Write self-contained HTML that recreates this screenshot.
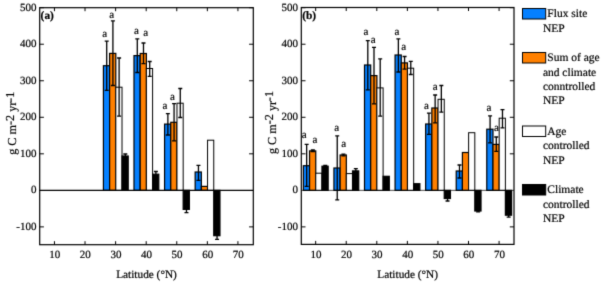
<!DOCTYPE html>
<html><head><meta charset="utf-8"><style>
html,body{margin:0;padding:0;background:#fff;}
svg{display:block;}
text{font-family:"Liberation Serif",serif;fill:#000;stroke:#000;stroke-width:0.2px;text-rendering:geometricPrecision;}
.t{font-size:11px;}
.l{font-size:12.2px;}
.x{font-size:11.3px;}
.s{font-size:12.2px;}
.g{font-size:11.5px;}
</style></head><body>
<svg width="602" height="283" viewBox="0 0 602 283">
<defs><filter id="bl" color-interpolation-filters="sRGB" x="0" y="0" width="602" height="283" filterUnits="userSpaceOnUse"><feConvolveMatrix order="3" kernelMatrix="0.0144 0.0912 0.0144 0.0912 0.5776 0.0912 0.0144 0.0912 0.0144" edgeMode="duplicate" preserveAlpha="true"/></filter></defs>
<g filter="url(#bl)"><rect width="602" height="283" fill="#fff"/>
<rect x="103.41" y="65.70" width="6.20" height="124.65" fill="#0580ff" stroke="#000" stroke-width="1.2"/>
<rect x="109.61" y="53.40" width="6.20" height="136.95" fill="#ff8000" stroke="#000" stroke-width="1.2"/>
<rect x="115.81" y="87.20" width="6.20" height="103.15" fill="#fff" stroke="#000" stroke-width="1.0"/>
<rect x="122.01" y="156.00" width="6.20" height="34.35" fill="#000" stroke="#000" stroke-width="1.2"/>
<path d="M106.71 41.10V90.30M104.71 41.10h4M104.71 90.30h4" stroke="#000" stroke-width="1.3" fill="none"/>
<path d="M112.91 20.90V85.50M110.91 20.90h4M110.91 85.50h4" stroke="#000" stroke-width="1.3" fill="none"/>
<path d="M119.11 58.00V116.20M117.11 58.00h4M117.11 116.20h4" stroke="#000" stroke-width="1.3" fill="none"/>
<path d="M125.31 154.00V158.00M123.31 154.00h4M123.31 158.00h4" stroke="#000" stroke-width="1.3" fill="none"/>
<rect x="133.99" y="55.60" width="6.20" height="134.75" fill="#0580ff" stroke="#000" stroke-width="1.2"/>
<rect x="140.19" y="53.50" width="6.20" height="136.85" fill="#ff8000" stroke="#000" stroke-width="1.2"/>
<rect x="146.39" y="68.50" width="6.20" height="121.85" fill="#fff" stroke="#000" stroke-width="1.0"/>
<rect x="152.59" y="174.20" width="6.20" height="16.15" fill="#000" stroke="#000" stroke-width="1.2"/>
<path d="M137.29 38.80V72.50M135.29 38.80h4M135.29 72.50h4" stroke="#000" stroke-width="1.3" fill="none"/>
<path d="M143.49 43.00V63.60M141.49 43.00h4M141.49 63.60h4" stroke="#000" stroke-width="1.3" fill="none"/>
<path d="M149.69 61.50V76.40M147.69 61.50h4M147.69 76.40h4" stroke="#000" stroke-width="1.3" fill="none"/>
<path d="M155.89 171.50V177.00M153.89 171.50h4M153.89 177.00h4" stroke="#000" stroke-width="1.3" fill="none"/>
<rect x="164.57" y="124.10" width="6.20" height="66.25" fill="#0580ff" stroke="#000" stroke-width="1.2"/>
<rect x="170.77" y="122.30" width="6.20" height="68.05" fill="#ff8000" stroke="#000" stroke-width="1.2"/>
<rect x="176.97" y="103.20" width="6.20" height="87.15" fill="#fff" stroke="#000" stroke-width="1.0"/>
<rect x="183.17" y="190.35" width="6.20" height="19.05" fill="#000" stroke="#000" stroke-width="1.2"/>
<path d="M167.87 113.60V135.00M165.87 113.60h4M165.87 135.00h4" stroke="#000" stroke-width="1.3" fill="none"/>
<path d="M174.07 103.60V140.90M172.07 103.60h4M172.07 140.90h4" stroke="#000" stroke-width="1.3" fill="none"/>
<path d="M180.27 88.50V117.50M178.27 88.50h4M178.27 117.50h4" stroke="#000" stroke-width="1.3" fill="none"/>
<path d="M186.47 206.00V212.70M184.47 206.00h4M184.47 212.70h4" stroke="#000" stroke-width="1.3" fill="none"/>
<rect x="195.15" y="172.00" width="6.20" height="18.35" fill="#0580ff" stroke="#000" stroke-width="1.2"/>
<rect x="201.35" y="186.40" width="6.20" height="3.95" fill="#ff8000" stroke="#000" stroke-width="1.2"/>
<rect x="207.55" y="140.20" width="6.20" height="50.15" fill="#fff" stroke="#000" stroke-width="1.0"/>
<rect x="213.75" y="190.35" width="6.20" height="45.35" fill="#000" stroke="#000" stroke-width="1.2"/>
<path d="M198.45 165.40V180.30M196.45 165.40h4M196.45 180.30h4" stroke="#000" stroke-width="1.3" fill="none"/>
<path d="M217.05 232.00V239.40M215.05 232.00h4M215.05 239.40h4" stroke="#000" stroke-width="1.3" fill="none"/>
<path d="M39.7 190.35H253.3" stroke="#000" stroke-width="1.2"/>
<rect x="39.7" y="7.7" width="213.60000000000002" height="237.0" fill="none" stroke="#000" stroke-width="1.2"/>
<path d="M54.45 244.7v-3.5M54.45 7.7v3.5M85.03 244.7v-3.5M85.03 7.7v3.5M115.61 244.7v-3.5M115.61 7.7v3.5M146.19 244.7v-3.5M146.19 7.7v3.5M176.77 244.7v-3.5M176.77 7.7v3.5M207.35 244.7v-3.5M207.35 7.7v3.5M237.93 244.7v-3.5M237.93 7.7v3.5M39.7 226.88h4.2M253.3 226.88h-4.2M39.7 153.82h4.2M253.3 153.82h-4.2M39.7 117.29h4.2M253.3 117.29h-4.2M39.7 80.76h4.2M253.3 80.76h-4.2M39.7 44.23h4.2M253.3 44.23h-4.2M39.7 7.70h4.2M253.3 7.70h-4.2" stroke="#000" stroke-width="1" fill="none"/>
<text x="54.75" y="257.8" class="t" text-anchor="middle">10</text>
<text x="85.33" y="257.8" class="t" text-anchor="middle">20</text>
<text x="115.91" y="257.8" class="t" text-anchor="middle">30</text>
<text x="146.49" y="257.8" class="t" text-anchor="middle">40</text>
<text x="177.07" y="257.8" class="t" text-anchor="middle">50</text>
<text x="207.65" y="257.8" class="t" text-anchor="middle">60</text>
<text x="238.23" y="257.8" class="t" text-anchor="middle">70</text>
<text x="36.40" y="229.98" class="t" text-anchor="end">-100</text>
<text x="36.40" y="193.45" class="t" text-anchor="end">0</text>
<text x="36.40" y="156.92" class="t" text-anchor="end">100</text>
<text x="36.40" y="120.39" class="t" text-anchor="end">200</text>
<text x="36.40" y="83.86" class="t" text-anchor="end">300</text>
<text x="36.40" y="47.33" class="t" text-anchor="end">400</text>
<text x="36.40" y="10.80" class="t" text-anchor="end">500</text>
<text x="104.80" y="37.00" class="t" text-anchor="middle">a</text>
<text x="111.80" y="18.40" class="t" text-anchor="middle">a</text>
<text x="136.50" y="34.00" class="t" text-anchor="middle">a</text>
<text x="145.60" y="36.10" class="t" text-anchor="middle">a</text>
<text x="165.00" y="108.80" class="t" text-anchor="middle">a</text>
<text x="172.40" y="99.70" class="t" text-anchor="middle">a</text>
<text x="40.60" y="19.3" class="t" font-weight="bold" style="font-size:11.4px">(a)</text>
<text x="146.50" y="277.9" class="x" text-anchor="middle">Latitude (°N)</text>
<rect x="303.36" y="165.70" width="6.20" height="24.65" fill="#0580ff" stroke="#000" stroke-width="1.2"/>
<rect x="309.56" y="150.90" width="6.20" height="39.45" fill="#ff8000" stroke="#000" stroke-width="1.2"/>
<rect x="315.76" y="173.20" width="6.20" height="17.15" fill="#fff" stroke="#000" stroke-width="1.0"/>
<rect x="321.96" y="166.20" width="6.20" height="24.15" fill="#000" stroke="#000" stroke-width="1.2"/>
<path d="M306.66 144.30V186.40M304.66 144.30h4M304.66 186.40h4" stroke="#000" stroke-width="1.3" fill="none"/>
<path d="M312.86 150.00V151.60M310.86 150.00h4M310.86 151.60h4" stroke="#000" stroke-width="1.3" fill="none"/>
<path d="M325.26 165.40V166.90M323.26 165.40h4M323.26 166.90h4" stroke="#000" stroke-width="1.3" fill="none"/>
<rect x="333.93" y="168.00" width="6.20" height="22.35" fill="#0580ff" stroke="#000" stroke-width="1.2"/>
<rect x="340.13" y="155.00" width="6.20" height="35.35" fill="#ff8000" stroke="#000" stroke-width="1.2"/>
<rect x="346.33" y="173.60" width="6.20" height="16.75" fill="#fff" stroke="#000" stroke-width="1.0"/>
<rect x="352.53" y="170.90" width="6.20" height="19.45" fill="#000" stroke="#000" stroke-width="1.2"/>
<path d="M337.23 135.80V199.80M335.23 135.80h4M335.23 199.80h4" stroke="#000" stroke-width="1.3" fill="none"/>
<path d="M343.43 154.20V155.90M341.43 154.20h4M341.43 155.90h4" stroke="#000" stroke-width="1.3" fill="none"/>
<path d="M355.83 168.70V173.00M353.83 168.70h4M353.83 173.00h4" stroke="#000" stroke-width="1.3" fill="none"/>
<rect x="364.50" y="65.00" width="6.20" height="125.35" fill="#0580ff" stroke="#000" stroke-width="1.2"/>
<rect x="370.70" y="75.60" width="6.20" height="114.75" fill="#ff8000" stroke="#000" stroke-width="1.2"/>
<rect x="376.90" y="87.90" width="6.20" height="102.45" fill="#fff" stroke="#000" stroke-width="1.0"/>
<rect x="383.10" y="176.30" width="6.20" height="14.05" fill="#000" stroke="#000" stroke-width="1.2"/>
<path d="M367.80 40.60V89.80M365.80 40.60h4M365.80 89.80h4" stroke="#000" stroke-width="1.3" fill="none"/>
<path d="M374.00 47.40V103.80M372.00 47.40h4M372.00 103.80h4" stroke="#000" stroke-width="1.3" fill="none"/>
<path d="M380.20 58.90V116.20M378.20 58.90h4M378.20 116.20h4" stroke="#000" stroke-width="1.3" fill="none"/>
<rect x="395.07" y="55.00" width="6.20" height="135.35" fill="#0580ff" stroke="#000" stroke-width="1.2"/>
<rect x="401.27" y="62.90" width="6.20" height="127.45" fill="#ff8000" stroke="#000" stroke-width="1.2"/>
<rect x="407.47" y="68.20" width="6.20" height="122.15" fill="#fff" stroke="#000" stroke-width="1.0"/>
<rect x="413.67" y="183.70" width="6.20" height="6.65" fill="#000" stroke="#000" stroke-width="1.2"/>
<path d="M398.37 38.80V72.00M396.37 38.80h4M396.37 72.00h4" stroke="#000" stroke-width="1.3" fill="none"/>
<path d="M404.57 56.50V69.20M402.57 56.50h4M402.57 69.20h4" stroke="#000" stroke-width="1.3" fill="none"/>
<path d="M410.77 61.40V74.50M408.77 61.40h4M408.77 74.50h4" stroke="#000" stroke-width="1.3" fill="none"/>
<rect x="425.64" y="124.00" width="6.20" height="66.35" fill="#0580ff" stroke="#000" stroke-width="1.2"/>
<rect x="431.84" y="108.00" width="6.20" height="82.35" fill="#ff8000" stroke="#000" stroke-width="1.2"/>
<rect x="438.04" y="99.30" width="6.20" height="91.05" fill="#fff" stroke="#000" stroke-width="1.0"/>
<rect x="444.24" y="190.35" width="6.20" height="8.15" fill="#000" stroke="#000" stroke-width="1.2"/>
<path d="M428.94 113.20V134.40M426.94 113.20h4M426.94 134.40h4" stroke="#000" stroke-width="1.3" fill="none"/>
<path d="M435.14 95.00V122.80M433.14 95.00h4M433.14 122.80h4" stroke="#000" stroke-width="1.3" fill="none"/>
<path d="M441.34 85.50V112.20M439.34 85.50h4M439.34 112.20h4" stroke="#000" stroke-width="1.3" fill="none"/>
<path d="M447.54 196.00V201.00M445.54 196.00h4M445.54 201.00h4" stroke="#000" stroke-width="1.3" fill="none"/>
<rect x="456.21" y="171.00" width="6.20" height="19.35" fill="#0580ff" stroke="#000" stroke-width="1.2"/>
<rect x="462.41" y="152.50" width="6.20" height="37.85" fill="#ff8000" stroke="#000" stroke-width="1.2"/>
<rect x="468.61" y="132.70" width="6.20" height="57.65" fill="#fff" stroke="#000" stroke-width="1.0"/>
<rect x="474.81" y="190.35" width="6.20" height="20.65" fill="#000" stroke="#000" stroke-width="1.2"/>
<path d="M459.51 165.00V178.00M457.51 165.00h4M457.51 178.00h4" stroke="#000" stroke-width="1.3" fill="none"/>
<path d="M478.11 209.00V211.80M476.11 209.00h4M476.11 211.80h4" stroke="#000" stroke-width="1.3" fill="none"/>
<rect x="486.78" y="129.20" width="6.20" height="61.15" fill="#0580ff" stroke="#000" stroke-width="1.2"/>
<rect x="492.98" y="144.40" width="6.20" height="45.95" fill="#ff8000" stroke="#000" stroke-width="1.2"/>
<rect x="499.18" y="118.20" width="6.20" height="72.15" fill="#fff" stroke="#000" stroke-width="1.0"/>
<rect x="505.38" y="190.35" width="6.20" height="24.85" fill="#000" stroke="#000" stroke-width="1.2"/>
<path d="M490.08 115.90V142.90M488.08 115.90h4M488.08 142.90h4" stroke="#000" stroke-width="1.3" fill="none"/>
<path d="M496.28 137.00V151.40M494.28 137.00h4M494.28 151.40h4" stroke="#000" stroke-width="1.3" fill="none"/>
<path d="M502.48 109.70V127.80M500.48 109.70h4M500.48 127.80h4" stroke="#000" stroke-width="1.3" fill="none"/>
<path d="M508.68 213.00V217.10M506.68 213.00h4M506.68 217.10h4" stroke="#000" stroke-width="1.3" fill="none"/>
<path d="M301.3 190.35H514.0" stroke="#000" stroke-width="0.7"/>
<rect x="301.3" y="7.5" width="212.7" height="236.9" fill="none" stroke="#000" stroke-width="1.2"/>
<path d="M315.66 244.4v-3.5M315.66 7.5v3.5M346.23 244.4v-3.5M346.23 7.5v3.5M376.80 244.4v-3.5M376.80 7.5v3.5M407.37 244.4v-3.5M407.37 7.5v3.5M437.94 244.4v-3.5M437.94 7.5v3.5M468.51 244.4v-3.5M468.51 7.5v3.5M499.08 244.4v-3.5M499.08 7.5v3.5M301.3 226.88h4.2M514.0 226.88h-4.2M301.3 153.82h4.2M514.0 153.82h-4.2M301.3 117.29h4.2M514.0 117.29h-4.2M301.3 80.76h4.2M514.0 80.76h-4.2M301.3 44.23h4.2M514.0 44.23h-4.2M301.3 7.70h4.2M514.0 7.70h-4.2" stroke="#000" stroke-width="1" fill="none"/>
<text x="315.96" y="257.8" class="t" text-anchor="middle">10</text>
<text x="346.53" y="257.8" class="t" text-anchor="middle">20</text>
<text x="377.10" y="257.8" class="t" text-anchor="middle">30</text>
<text x="407.67" y="257.8" class="t" text-anchor="middle">40</text>
<text x="438.24" y="257.8" class="t" text-anchor="middle">50</text>
<text x="468.81" y="257.8" class="t" text-anchor="middle">60</text>
<text x="499.38" y="257.8" class="t" text-anchor="middle">70</text>
<text x="298.00" y="229.98" class="t" text-anchor="end">-100</text>
<text x="298.00" y="193.45" class="t" text-anchor="end">0</text>
<text x="298.00" y="156.92" class="t" text-anchor="end">100</text>
<text x="298.00" y="120.39" class="t" text-anchor="end">200</text>
<text x="298.00" y="83.86" class="t" text-anchor="end">300</text>
<text x="298.00" y="47.33" class="t" text-anchor="end">400</text>
<text x="298.00" y="10.80" class="t" text-anchor="end">500</text>
<text x="304.10" y="137.60" class="t" text-anchor="middle">a</text>
<text x="315.00" y="142.90" class="t" text-anchor="middle">a</text>
<text x="336.70" y="130.70" class="t" text-anchor="middle">a</text>
<text x="343.80" y="146.70" class="t" text-anchor="middle">a</text>
<text x="365.90" y="35.30" class="t" text-anchor="middle">a</text>
<text x="373.20" y="43.40" class="t" text-anchor="middle">a</text>
<text x="397.00" y="34.90" class="t" text-anchor="middle">a</text>
<text x="403.80" y="49.70" class="t" text-anchor="middle">a</text>
<text x="426.40" y="109.00" class="t" text-anchor="middle">a</text>
<text x="435.30" y="90.40" class="t" text-anchor="middle">a</text>
<text x="489.00" y="111.00" class="t" text-anchor="middle">a</text>
<text x="496.40" y="130.50" class="t" text-anchor="middle">a</text>
<text x="302.20" y="19.3" class="t" font-weight="bold" style="font-size:11.4px">(b)</text>
<text x="407.65" y="277.9" class="x" text-anchor="middle">Latitude (°N)</text>
<text transform="translate(16.1,154.8) rotate(-90)" class="l">g C m<tspan class="s" dy="-2.5">-2</tspan><tspan dy="2.5"> yr</tspan><tspan class="s" dy="-2.5">-1</tspan></text>
<text transform="translate(275.5,154.1) rotate(-90)" class="l">g C m<tspan class="s" dy="-2.5">-2</tspan><tspan dy="2.5"> yr</tspan><tspan class="s" dy="-2.5">-1</tspan></text>
<rect x="522.5" y="8.5" width="23.2" height="10.5" fill="#0580ff" stroke="#000" stroke-width="1"/>
<text x="547.3" y="17.20" class="g">Flux site</text>
<text x="542.9" y="31.60" class="g">NEP</text>
<rect x="522.5" y="52.5" width="23.2" height="10.5" fill="#ff8000" stroke="#000" stroke-width="1"/>
<text x="547.3" y="61.20" class="g">Sum of age</text>
<text x="542.9" y="75.60" class="g">and climate</text>
<text x="542.9" y="90.00" class="g">conntrolled</text>
<text x="542.9" y="104.40" class="g">NEP</text>
<rect x="522.5" y="126.0" width="23.2" height="10.5" fill="#fff" stroke="#000" stroke-width="1"/>
<text x="547.3" y="134.70" class="g">Age</text>
<text x="542.9" y="149.10" class="g">controlled</text>
<text x="542.9" y="163.50" class="g">NEP</text>
<rect x="522.5" y="184.5" width="23.2" height="10.5" fill="#000" stroke="#000" stroke-width="1"/>
<text x="547.3" y="193.20" class="g">Climate</text>
<text x="542.9" y="207.60" class="g">controlled</text>
<text x="542.9" y="222.00" class="g">NEP</text>
</g>
</svg>
</body></html>
